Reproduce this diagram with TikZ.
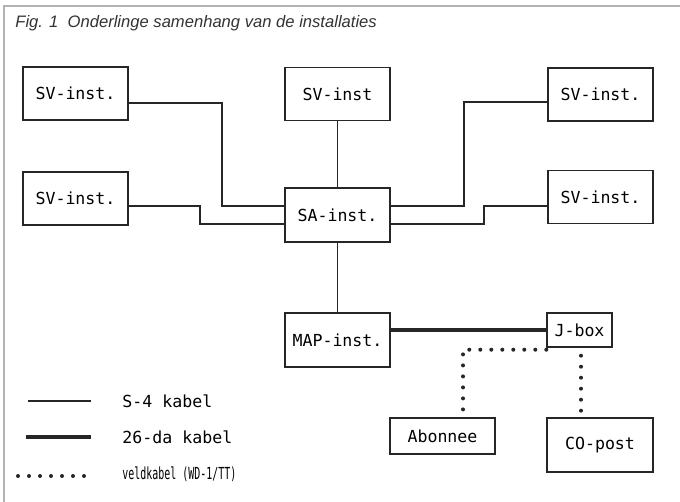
\documentclass[tikz,border=0pt]{standalone}
\usepackage{fontspec}
\usepackage{graphicx}
\setmainfont{Liberation Sans}
\newfontfamily\hand{DejaVu Sans Mono}

\tikzset{
  inst/.style={draw=black!85, line width=0.7pt, inner sep=0pt,
    font=\hand\fontsize{8.3}{10}\selectfont},
  sv/.style={inst, minimum width=52.5pt, minimum height=26.5pt},
  sfour/.style={draw=black!85, line width=0.7pt},
  tsix/.style={draw=black!85, line width=1.6pt},
  veld/.style={draw=black!85, line width=2pt, line cap=round, dash pattern=on 0pt off 5.5pt},
  legend/.style={anchor=west, inner sep=0pt, font=\hand\fontsize{8.3}{10}\selectfont},
}

\begin{document}
\begin{tikzpicture}[x=0.5pt,y=-0.5pt]
\useasboundingbox (0,0) rectangle (680,502);
\draw[gray!60, line width=0.6pt] (4,502) -- (4,6) -- (680,6);
\node[anchor=base west, inner sep=0pt, text=black!80,
  font=\itshape\fontsize{8.3}{10}\selectfont] (title) at (15,28)
  {Fig. 1\ \ Onderlinge samenhang van de installaties};

% installaties
\node[sv] (svnw) at (75.5,93.5) {SV-inst.};
\node[sv] (svw) at (75.5,198.5) {SV-inst.};
\node[sv] (svn) at (337.5,94) {SV-inst};
\node[sv] (svne) at (600.5,94.5) {SV-inst.};
\node[sv] (sve) at (600.5,197) {SV-inst.};
\node[sv, minimum height=27pt] (sa) at (337.5,215) {SA-inst.};
\node[sv, minimum height=27pt] (map) at (337.5,340) {MAP-inst.};
\node[inst, minimum width=32.5pt, minimum height=17pt] (jbox) at (579.5,330) {J-box};
\node[sv, minimum height=18pt] (abon) at (442.5,436) {Abonnee};
\node[sv, minimum width=53pt, minimum height=27pt] (copost) at (600,445) {CO-post};

% S-4 kabels
\draw[sfour] ([yshift=-4.75pt]svnw.east) -| (222,206) -- ([yshift=4.5pt]sa.west);
\draw[sfour] ([yshift=-3.75pt]svw.east) -- (200,206) |- ([yshift=-4.5pt]sa.west);
\draw[sfour] ([yshift=4.5pt]sa.east) -| (464,102) -- ([yshift=-3.75pt]svne.west);
\draw[sfour] ([yshift=-4.5pt]sa.east) -| (484,206) -- ([yshift=-4.5pt]sve.west);
\draw[sfour] (svn) -- (sa);
\draw[sfour] (sa) -- (map);

% 26-da kabel
\draw[tsix] ([yshift=5pt]map.east) -- (jbox.west);

% veldkabels
\draw[veld] ([yshift=-1pt]jbox.south west) -| ([xshift=10.25pt,yshift=2.5pt]abon.north);
\draw[veld] ([xshift=0.75pt,yshift=-4pt]jbox.south) -- ([xshift=0.75pt,yshift=1.5pt]jbox.south |- copost.north);

% legenda
\coordinate (la) at (28,401);
\coordinate (lb) at (91,401);
\coordinate (lc) at (26,437);
\coordinate (ld) at (91,437);
\coordinate (le) at (18,476);
\coordinate (lf) at (89,476);
\draw[sfour] (la) -- (lb);
\draw[tsix] (lc) -- (ld);
\draw[veld] (le) -- (lf);
\node[legend] (lsfour) at (122,401) {S-4 kabel};
\node[legend] (ltsix) at (122,437) {26-da kabel};
\node[legend] (lveld) at (122,474) {\scalebox{0.6}[1]{veldkabel (WD-1/TT)}};

\end{tikzpicture}
\end{document}
